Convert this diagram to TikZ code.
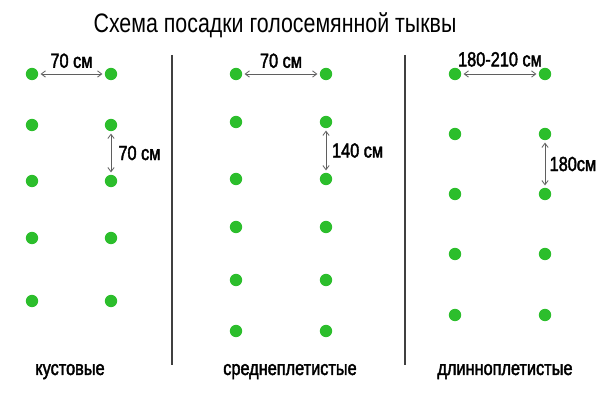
\documentclass[tikz,border=0pt]{standalone}
\usepackage{fontspec}
\setmainfont{Liberation Sans}
\newfontfamily\narrowfont[FakeStretch=0.8]{Liberation Sans}
\newfontfamily\narrowboldfont[FakeStretch=0.8,FakeBold=2]{Liberation Sans}
\usetikzlibrary{
	arrows.meta,
	positioning,
}
\definecolor{plantgreen}{RGB}{44,190,44}
\definecolor{arrowgray}{RGB}{95,95,95}
\tikzset{plant/.style={draw=none,circle,fill=plantgreen,inner sep=0mm,minimum size=3.1mm,}}
\tikzset{gap/.style={arrowgray,line width=0.6pt,<->,shorten <=1.5pt,shorten >=1.5pt,}}
\tikzset{dist/.style={draw=none,text=black,font=\narrowboldfont\fontsize{14.5}{16}\selectfont,inner sep=1pt,}}
\tikzset{divider/.style={black!75,line width=1.1pt,}}
\tikzset{kind/.style={anchor=base,font=\narrowboldfont\fontsize{14.5}{16}\selectfont,}}
\tikzset{
	>={Straight Barb[length=3pt,width=4.5pt]},
}

\begin{document}
\begin{tikzpicture}[x=0.025cm,y=-0.025cm]
\useasboundingbox (0,0) rectangle (600,400);

\node[anchor=base,font=\narrowfont\fontsize{19}{22}\selectfont] (title) at (275,33) {Схема посадки голосемянной тыквы};

% кустовые
\foreach \n/\y in {1/74,2/125,3/181,4/238,5/301}{
	\node[plant] (kl\n) at (32,\y) {};
	\node[plant] (kr\n) at (111,\y) {};
}
\draw[gap] (kl1) -- (kr1) node[dist,midway,above=3pt]{70 см};
\draw[gap] (kr2) -- (kr3) node[dist,midway,right=4pt]{70 см};

% среднеплетистые
\foreach \n/\y in {1/74,2/122,3/179,4/227,5/280,6/331}{
	\node[plant] (sl\n) at (236,\y) {};
	\node[plant] (sr\n) at (326,\y) {};
}
\draw[gap] (sl1) -- (sr1) node[dist,midway,above=3pt]{70 см};
\draw[gap] (sr2) -- (sr3) node[dist,midway,right=3pt]{140 см};

% длинноплетистые
\foreach \n/\y in {1/74,2/134,3/194,4/254,5/315}{
	\node[plant] (dl\n) at (455,\y) {};
	\node[plant] (dr\n) at (545,\y) {};
}
\draw[gap] (dl1) -- (dr1) node[dist,midway,above=4pt]{180-210 см};
\draw[gap] (dr2) -- (dr3) node[dist,midway,right=2pt]{180см};

\foreach \n/\x in {1/172,2/405}{
	\coordinate (top\n) at (\x,55);
	\coordinate (bot\n) at (\x,365);
	\draw[divider] (top\n) -- (bot\n);
}

\node[kind] (kust) at (70,375) {кустовые};
\node[kind] (sred) at (290,375) {среднеплетистые};
\node[kind] (dlin) at (505,375) {длинноплетистые};

\end{tikzpicture}
\end{document}
